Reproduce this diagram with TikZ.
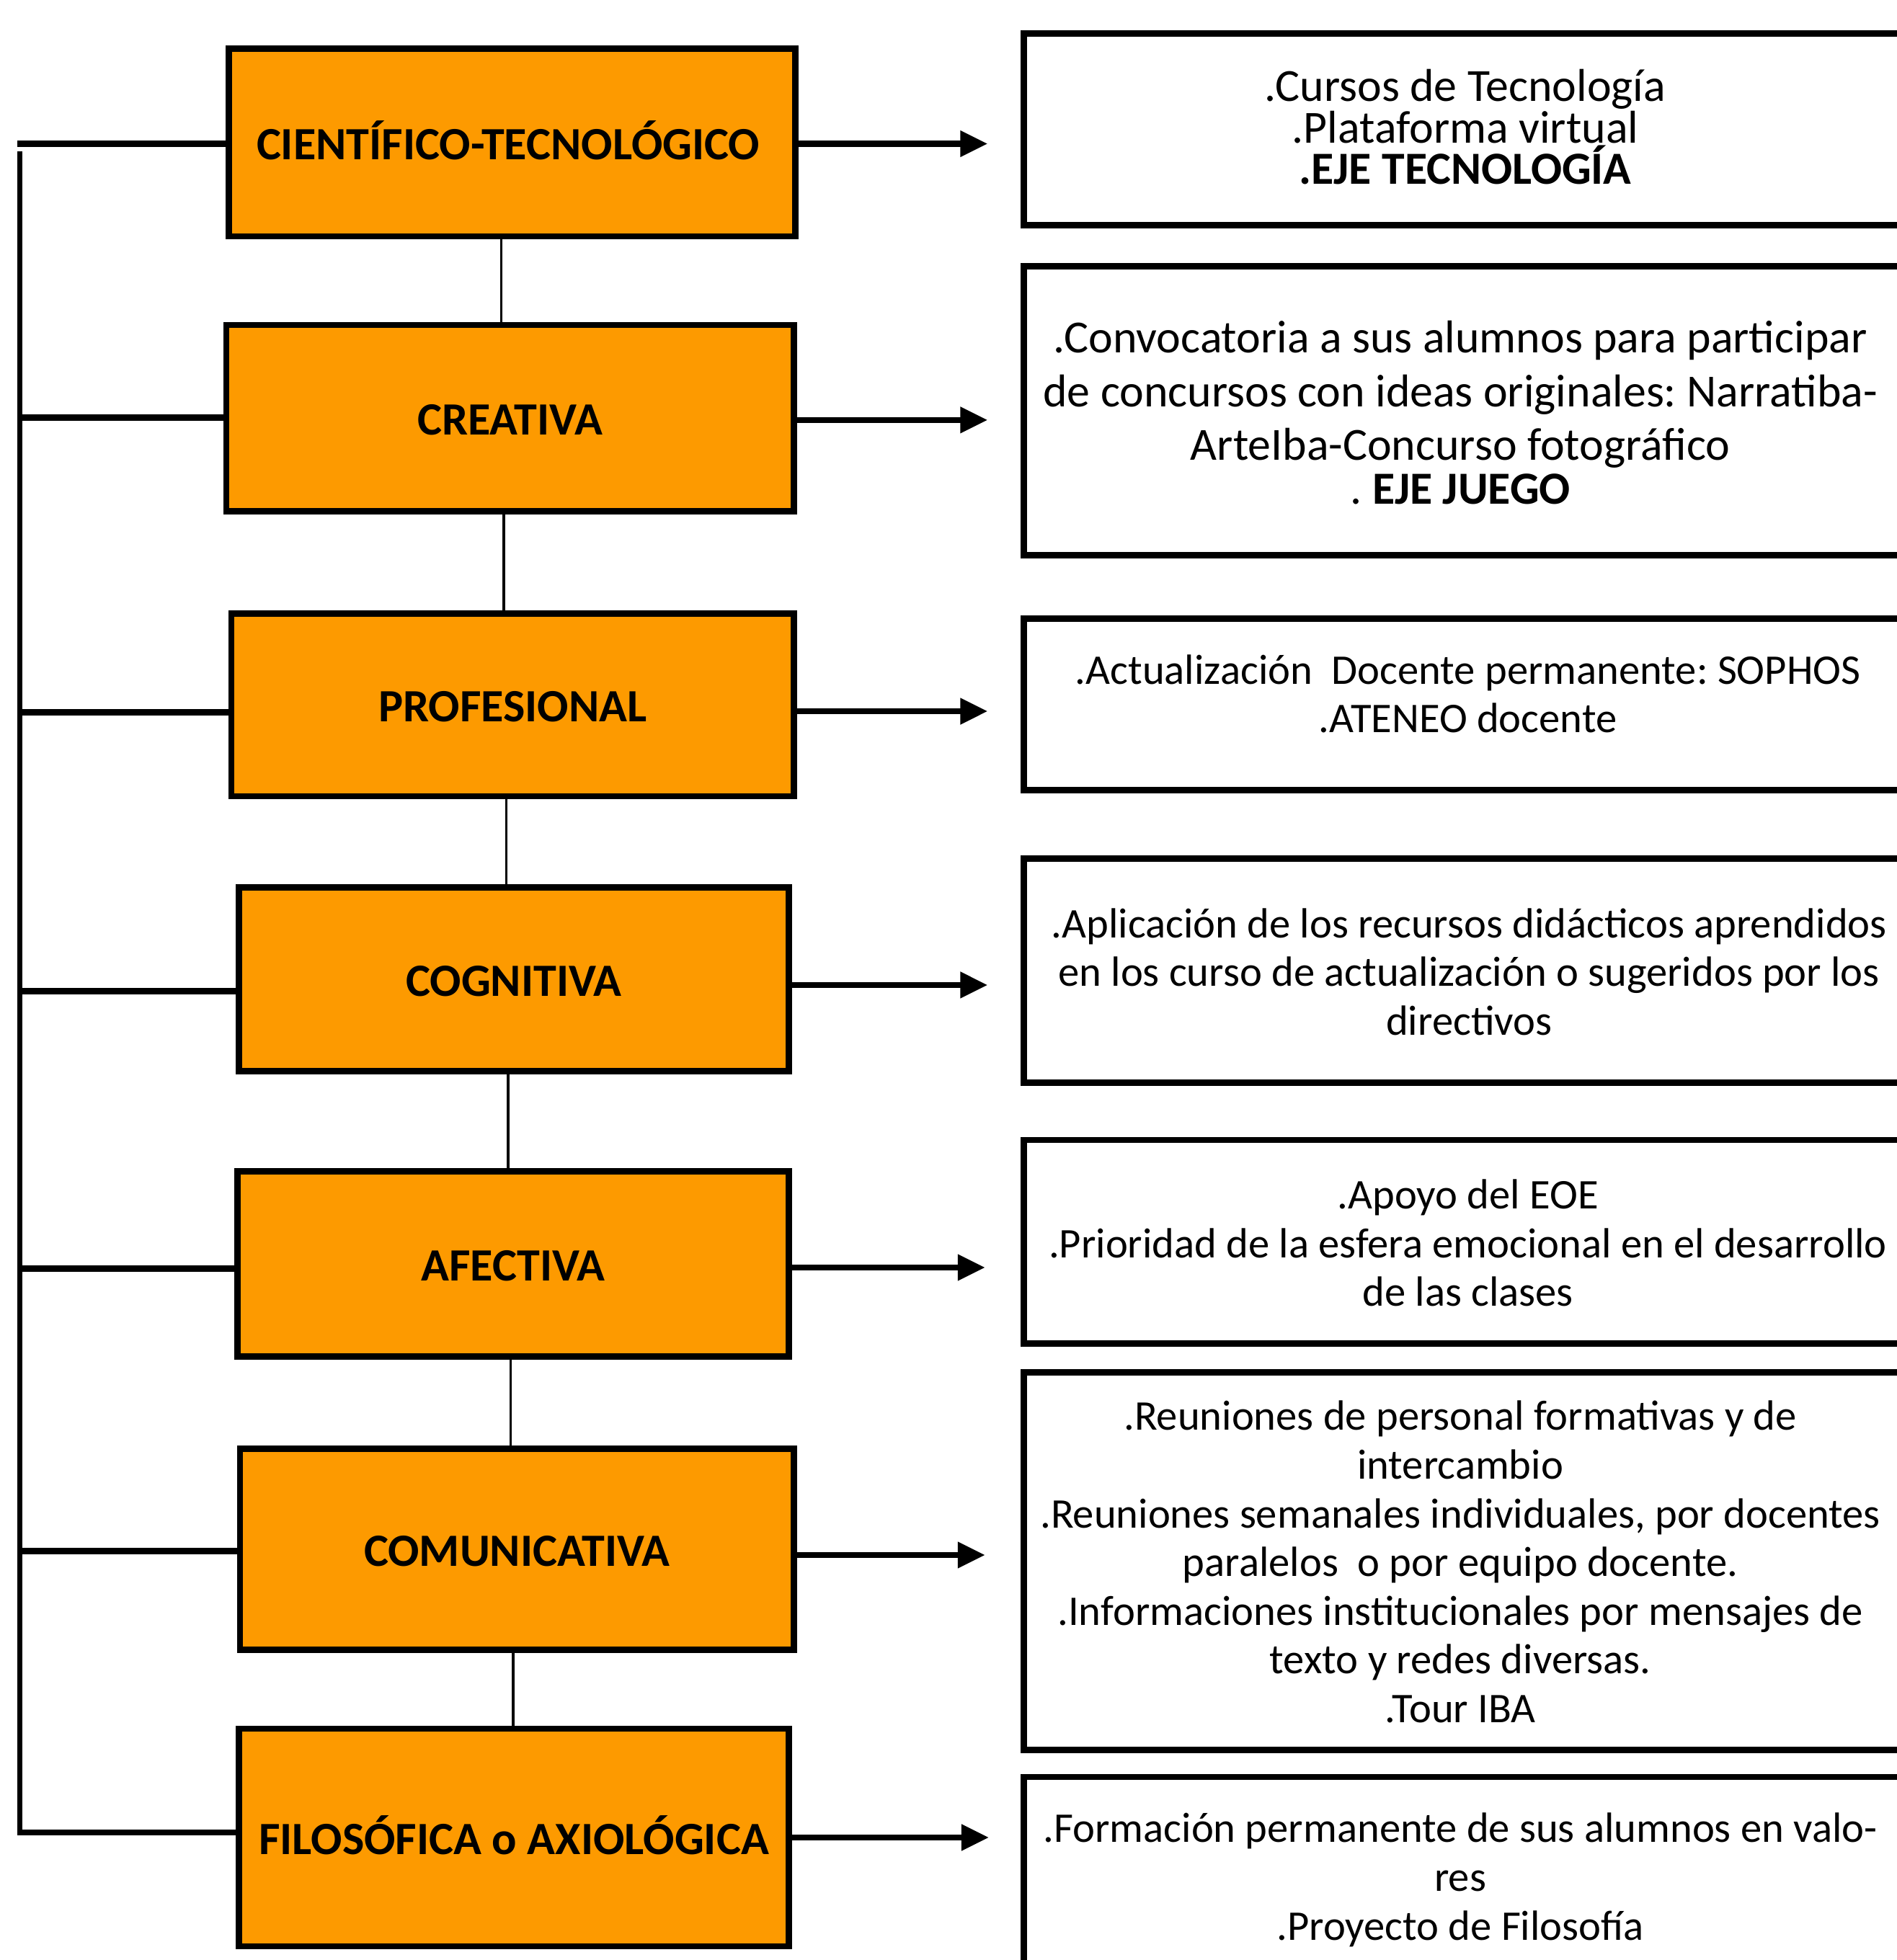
\documentclass[tikz,border=0pt]{standalone}
\usepackage{fontspec}
\setmainfont{Carlito}
\usetikzlibrary{arrows.meta}
\definecolor{boxorange}{HTML}{FD9A00}
\setlength{\lineskiplimit}{-100pt}
\setlength{\lineskip}{0pt}
\frenchspacing
\begin{document}
\frenchspacing
\begin{tikzpicture}[x=1pt,y=-1pt,
  lbox/.style={draw=black, line width=5pt, fill=boxorange, inner sep=0pt,
    font=\fontsize{37}{40}\selectfont\bfseries, text height=27pt, text depth=0pt},
  rbox/.style={draw=black, line width=5pt, minimum width=720pt, inner sep=0pt},
  rtext/.style={align=center, inner sep=0pt, font=\fontsize{33.8}{39}\selectfont},
  bus/.style={line width=5pt},
  vbus/.style={line width=4pt},
  link/.style={line width=2pt},
  arr/.style={line width=5pt, -{Triangle[length=22pt,width=20pt]}}
]
\useasboundingbox (0,0) rectangle (1517,1568);

% left boxes
\node[lbox, minimum width=453pt, minimum height=150pt] (b1) at (409.5,114) {\hspace*{-6pt}CIENTÍFICO-TECNOLÓGICO};
\node[lbox, minimum width=454pt, minimum height=149pt] (b2) at (408,334.5) {CREATIVA};
\node[lbox, minimum width=450pt, minimum height=146pt] (b3) at (410,564) {PROFESIONAL};
\node[lbox, minimum width=440pt, minimum height=147pt] (b4) at (411,783.5) {COGNITIVA};
\node[lbox, minimum width=441pt, minimum height=148pt] (b5) at (410.5,1011) {AFECTIVA};
\node[lbox, minimum width=443pt, minimum height=161pt] (b6) at (413.5,1239.5) {COMUNICATIVA};
\node[lbox, minimum width=440pt, minimum height=174pt] (b7) at (411,1470) {FILOSÓFICA o AXIOLÓGICA};

% right boxes
\node[rbox, minimum height=153pt] (r1) at (1179,103.5) {};
\node[rbox, minimum height=231pt] (r2) at (1179,328.5) {};
\node[rbox, minimum height=137pt] (r3) at (1179,563.5) {};
\node[rbox, minimum height=179pt] (r4) at (1179,776.5) {};
\node[rbox, minimum height=163pt] (r5) at (1179,993.5) {};
\node[rbox, minimum height=302pt] (r6) at (1179,1249) {};
\node[rbox, minimum height=205pt] (r7) at (1179,1524) {};

% right texts
\node[rtext, font=\fontsize{36.8}{33}\selectfont] (t1) at (1172,101.5)
  {.Cursos de Tecnología\\.Plataforma virtual\\\textbf{.EJE TECNOLOGÍA}};
\node[rtext, font=\fontsize{36.8}{43}\selectfont] (t2) at (1168,330)
  {.Convocatoria a sus alumnos para participar\\de concursos con ideas originales: Narratiba-\\ArteIba-Concurso fotográfico\\[-8pt]. \textbf{EJE JUEGO}};
\node[rtext] (t3) at (1174,555)
  {.Actualización\ \ Docente permanente: SOPHOS\\.ATENEO docente};
\node[rtext] (t4) at (1175,777.5)
  {.Aplicación de los recursos didácticos aprendidos\\en los curso de actualización o sugeridos por los\\directivos};
\node[rtext] (t5) at (1174,994.5)
  {.Apoyo del EOE\\.Prioridad de la esfera emocional en el desarrollo\\de las clases};
\node[rtext] (t6) at (1168,1249.5)
  {.Reuniones de personal formativas y de\\intercambio\\.Reuniones semanales individuales, por docentes\\paralelos\ \ o por equipo docente.\\.Informaciones institucionales por mensajes de\\texto y redes diversas.\\.Tour IBA};
\node[rtext] (t7) at (1168,1504)
  {.Formación permanente de sus alumnos en valo-\\res\\.Proyecto de Filosofía};

% vertical links between left boxes
\draw[link] ([xshift=-8.5pt]b1.south) -- ([xshift=-7pt]b2.north);
\draw[link] ([xshift=-5pt]b2.south) -- ([xshift=-7pt]b3.north);
\draw[link] ([xshift=-5pt]b3.south) -- ([xshift=-6pt]b4.north);
\draw[link] ([xshift=-4.5pt]b4.south) -- ([xshift=-4pt]b5.north);
\draw[link] ([xshift=-2pt]b5.south) -- ([xshift=-5pt]b6.north);
\draw[link] ([xshift=-3pt]b6.south) -- ([xshift=-0.5pt]b7.north);

% left bus
\coordinate (v1) at (16,121);
\coordinate (v2) at (16,1468);
\draw[vbus] (v1) -- (v2);
\coordinate (l1) at (14,115);
\coordinate (l2) at (14,334);
\coordinate (l3) at (14,570);
\coordinate (l4) at (14,793);
\coordinate (l5) at (14,1015);
\coordinate (l6) at (14,1241);
\coordinate (l7) at (14,1466);
\foreach \i in {1,...,7} {
  \draw[bus] (l\i) -- (l\i -| b\i.west);
}

% arrows
\coordinate (a1) at (790,115);
\coordinate (a2) at (790,336);
\coordinate (a3) at (790,569);
\coordinate (a4) at (790,788);
\coordinate (a5) at (788,1014);
\coordinate (a6) at (788,1244);
\coordinate (a7) at (791,1470);
\foreach \i in {1,...,7} {
  \draw[arr] (a\i -| b\i.east) -- (a\i);
}
\end{tikzpicture}
\end{document}
